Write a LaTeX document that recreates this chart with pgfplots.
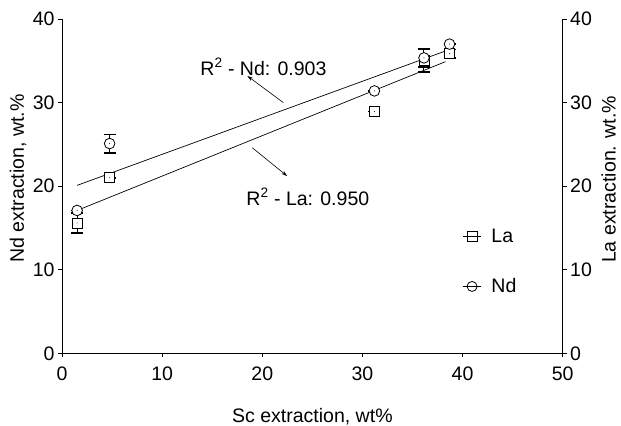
\documentclass[border=0pt]{standalone}
\usepackage{fontspec}
\setmainfont{Liberation Sans}
\usepackage{pgfplots}
\pgfplotsset{compat=1.18}
\usetikzlibrary{arrows.meta}

\pgfdeclareplotmark{sqdot}{%
  \pgfpathrectangle{\pgfqpoint{-\pgfplotmarksize}{-\pgfplotmarksize}}{\pgfqpoint{2\pgfplotmarksize}{2\pgfplotmarksize}}%
  \pgfusepathqfillstroke
  \begin{pgfscope}%
  \pgfsetfillcolor{black}%
  \pgfpathcircle{\pgfpointorigin}{0.5pt}%
  \pgfusepathqfill
  \end{pgfscope}}
\pgfdeclareplotmark{cidot}{%
  \pgfpathcircle{\pgfpointorigin}{\pgfplotmarksize}%
  \pgfusepathqfillstroke
  \begin{pgfscope}%
  \pgfsetfillcolor{black}%
  \pgfpathcircle{\pgfpointorigin}{0.5pt}%
  \pgfusepathqfill
  \end{pgfscope}}

\pgfplotstableread{
x y e
1.5 15.6 1.2
4.75 21.0 0.0
31.2 28.95 0.0
36.15 35.0 1.35
38.7 35.85 0.5
}\Ladata
\pgfplotstableread{
x y e
1.5 17.1 0.0
4.75 25.1 1.1
31.2 31.4 0.0
36.15 35.35 1.1
38.7 37.0 0.0
}\Nddata

\begin{document}
\begin{tikzpicture}[font=\fontsize{19.5}{23}\selectfont]
\begin{axis}[
  scale only axis, width=500pt, height=334pt,
  xmin=0, xmax=50, ymin=0, ymax=40,
  axis x line*=bottom, axis y line*=left,
  axis line style={line width=0.8pt},
  tick align=outside, major tick length=4pt,
  tick style={line width=0.8pt, black},
  xtick={0,10,...,50}, ytick={0,10,...,40},
  /pgf/number format/assume math mode=true,
  tick label style={font=\fontsize{19.5}{23}\selectfont},
  xticklabel style={yshift=-6pt},
  xlabel={Sc extraction, wt\%},
  ylabel={Nd extraction, wt.\%},
  x label style={at={(axis description cs:0.5,-0.188)}, anchor=center},
  y label style={at={(axis description cs:-0.088,0.5226)}, anchor=center},
  clip=false,
  legend style={draw=none, fill=none, at={(axis cs:40,11)}, anchor=west, inner sep=0pt, row sep=31pt, column sep=8pt, font=\fontsize{19.5}{23}\selectfont},
  legend cell align=left,
  legend image code/.code={\draw[mark repeat=2, mark phase=2] plot coordinates {(0pt,0pt) (9pt,0pt) (18pt,0pt)};},
]
\addlegendimage{black, line width=0.7pt, mark=square, mark size=5pt, mark options={fill=white, line width=0.8pt}}
\addlegendimage{black, line width=0.7pt, mark=o, mark size=5pt, mark options={fill=white, line width=0.8pt}}
\legend{La, Nd}
% fitted lines
\addplot[black, line width=0.7pt, forget plot] coordinates {(1.5,20.1) (38.35,36.2)};
\addplot[black, line width=0.7pt, forget plot] coordinates {(1.5,17.1) (38.3,34.9)};
% La
\addplot[black, only marks, mark=sqdot, mark size=5pt, mark options={fill=white, line width=0.8pt}, forget plot,
  error bars/.cd, y dir=both, y explicit, error bar style={line width=1pt},
  error mark options={rotate=90, mark size=6pt, line width=1.6pt}]
  table[x=x, y=y, y error=e] {\Ladata};
% Nd
\addplot[black, only marks, mark=cidot, mark size=5.3pt, mark options={fill=white, line width=0.8pt}, forget plot,
  error bars/.cd, y dir=both, y explicit, error bar style={line width=1pt},
  error mark options={rotate=90, mark size=6pt, line width=1.6pt}]
  table[x=x, y=y, y error=e] {\Nddata};
% annotations
\node[anchor=base west, inner sep=0pt] at (axis cs:13.8,33.25) {R\textsuperscript{2} - Nd: 0.903};
\node[anchor=base west, inner sep=0pt] at (axis cs:18.4,17.7) {R\textsuperscript{2} - La: 0.950};
\draw[line width=0.6pt, -{Stealth[length=6pt, width=3.5pt]}] (axis cs:22.1,30.0) -- (axis cs:18.5,33.2);
\draw[line width=0.6pt, -{Stealth[length=6pt, width=3.5pt]}] (axis cs:19.0,24.6) -- (axis cs:22.5,21.2);
\coordinate (sw) at (rel axis cs:0,0);
\coordinate (ne) at (rel axis cs:1,1);
\end{axis}
\begin{axis}[
  scale only axis, width=500pt, height=334pt,
  xmin=0, xmax=50, ymin=0, ymax=40,
  axis y line*=right, axis x line=none,
  axis line style={line width=0.8pt},
  tick align=outside, major tick length=4pt,
  tick style={line width=0.8pt, black},
  ytick={0,10,...,40},
  /pgf/number format/assume math mode=true,
  tick label style={font=\fontsize{19.5}{23}\selectfont},
  ylabel={La extraction. wt.\%},
  y label style={at={(axis description cs:1.092,0.52)}, anchor=center},
]
\end{axis}
\pgfresetboundingbox
\path[use as bounding box] ([shift={(-62pt,-72.3pt)}]sw) rectangle ([shift={(58.3pt,19pt)}]ne);
\end{tikzpicture}
\end{document}
